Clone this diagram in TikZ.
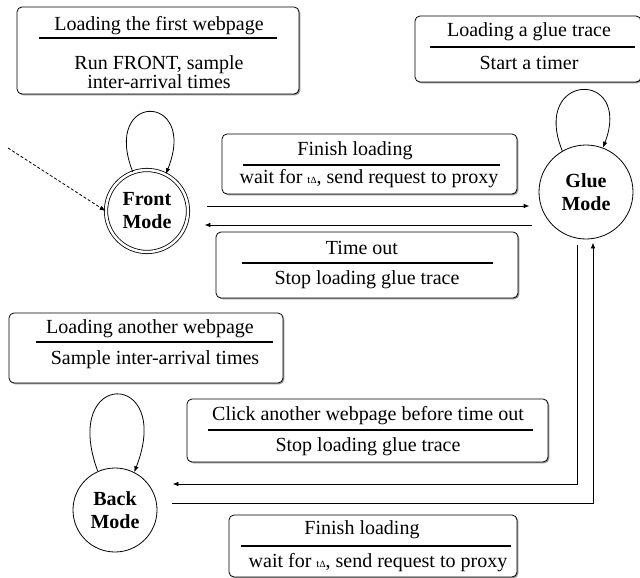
\documentclass[tikz,border=0pt]{standalone}
\usepackage{fontspec}
\setmainfont{Liberation Serif}
\usetikzlibrary{arrows.meta,shadows,calc}
\newcommand\tdelta{{\fontsize{11}{11}\selectfont t\fontsize{9.5}{9.5}\selectfont Δ}}
\begin{document}
\begin{tikzpicture}[x=1pt,y=-1pt,
  box/.style={draw, rounded corners=5pt, line width=0.8pt, fill=white,
    drop shadow={shadow xshift=1.3pt, shadow yshift=-1.3pt, fill=black!60, opacity=0.7}, inner sep=0pt},
  txt/.style={font=\fontsize{20}{17}\selectfont, inner sep=0pt, align=center},
  hrule/.style={line width=1.4pt},
  state/.style={draw, circle, line width=0.8pt, inner sep=0pt, fill=white,
    font=\fontsize{20}{23}\selectfont\bfseries, align=center},
  conn/.style={line width=0.8pt, -{Latex[length=6pt,width=4.5pt]}}
]
\useasboundingbox (0,0) rectangle (640,578);
\fill[white] (0,0) rectangle (640,578);

% boxes
\node[box, minimum width=282pt, minimum height=87pt] (bA) at (158,50.5) {};
\node[box, minimum width=226pt, minimum height=66pt] (bB) at (528,49) {};
\node[box, minimum width=295pt, minimum height=60pt] (bC) at (369.5,164) {};
\node[box, minimum width=302pt, minimum height=66pt] (bD) at (367,265) {};
\node[box, minimum width=274pt, minimum height=70pt] (bE) at (146,348) {};
\node[box, minimum width=361pt, minimum height=63pt] (bF) at (367.5,430.5) {};
\node[box, minimum width=288pt, minimum height=62pt] (bG) at (373,546) {};

% box texts
\node[txt] (tA1) at (159,26) {Loading the first webpage};
\node[txt] (tA2) at (159,72) {Run FRONT, sample\\inter-arrival times};
\draw[hrule] (39,38) -- (277,38);
\node[txt] (tB1) at (529,32) {Loading a glue trace};
\node[txt] (tB2) at (529,63) {Start a timer};
\draw[hrule] (430,47) -- (635,47);
\node[txt] (tC1) at (355,151) {Finish loading};
\node[txt] (tC2) at (369,179) {wait for \tdelta, send request to proxy};
\draw[hrule] (243,165) -- (500,165);
\node[txt] (tD1) at (362,248) {Time out};
\node[txt] (tD2) at (367,280) {Stop loading glue trace};
\draw[hrule] (242,263) -- (493,263);
\node[txt] (tE1) at (150,329) {Loading another webpage};
\node[txt] (tE2) at (155,360) {Sample inter-arrival times};
\draw[hrule] (36,342) -- (273,342);
\node[txt] (tF1) at (368,416) {Click another webpage before time out};
\node[txt] (tF2) at (368,447) {Stop loading glue trace};
\draw[hrule] (208,430) -- (533,430);
\node[txt] (tG1) at (362,530) {Finish loading};
\node[txt] (tG2) at (378,563) {wait for \tdelta, send request to proxy};
\draw[hrule] (241,546) -- (511,546);

% states
\node[state, double, double distance=2.5pt, minimum size=82pt] (front) at (147,211) {Front\\Mode};
\node[state, minimum size=94pt] (glue) at (586,192) {Glue\\Mode};
\node[state, minimum size=84pt] (back) at (115,510) {Back\\Mode};

% loops
\draw[conn] (front.110) .. controls +(-32,-81) and +(33,-82) .. (front.63);
\draw[conn] (glue.120) .. controls +(-32,-79) and +(30,-79) .. (glue.69);
\draw[conn] (back.114) .. controls +(-38,-103) and +(40,-103) .. (back.63);

% initial
\coordinate (init) at (8,148);
\draw[conn, dash pattern=on 3pt off 2pt] (init) -- (front.west);

% transitions
\draw[conn] ($(front.east)+(19,-5)$) -- ($(glue.west)+(-9,14)$);
\draw[conn] ($(glue.west)+(-7,33)$) -- ($(front.east)+(16,14)$);
\draw[conn] ($(glue.south)+(-9,6)$) |- ($(back.east)+(15,-26)$);
\draw[conn] ($(back.east)+(15,-7)$) -| ($(glue.south)+(7,3)$);
\end{tikzpicture}
\end{document}
